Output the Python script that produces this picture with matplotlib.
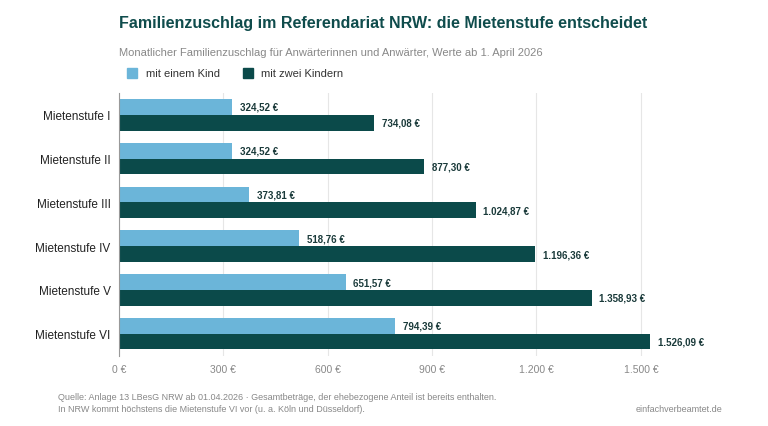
import matplotlib.pyplot as plt
import numpy as np

plt.rcParams['font.family'] = ['Liberation Sans', 'DejaVu Sans']

stufen = ["Mietenstufe I", "Mietenstufe II", "Mietenstufe III",
          "Mietenstufe IV", "Mietenstufe V", "Mietenstufe VI"]
ein_kind = [324.52, 324.52, 373.81, 518.76, 651.57, 794.39]
zwei_kinder = [734.08, 877.30, 1024.87, 1196.36, 1358.93, 1526.09]
xticks = [0, 300, 600, 900, 1200, 1500]

light = "#6bb5d9"
dark = "#0b4a4a"

def euro(v):
    s = f"{v:,.2f}".replace(",", "X").replace(".", ",").replace("X", ".")
    return s + " €"

fig = plt.figure(figsize=(7.68, 4.27), dpi=100)
ax = fig.add_axes([0.155, 0.165, 0.77, 0.615])

y = np.arange(len(stufen))
h = 0.36
ax.barh(y - h / 2, ein_kind, height=h, color=light)
ax.barh(y + h / 2, zwei_kinder, height=h, color=dark)
for yi, a, b in zip(y, ein_kind, zwei_kinder):
    ax.text(a + 22, yi - h / 2, euro(a), va="center", fontsize=7, fontweight="bold", color="#1a3a3a")
    ax.text(b + 22, yi + h / 2, euro(b), va="center", fontsize=7, fontweight="bold", color="#1a3a3a")

ax.set_ylim(len(stufen) - 0.5, -0.5)
ax.set_yticks(y)
ax.set_yticklabels(stufen, fontsize=8.5, color="#222222")
ax.set_xlim(0, 1700)
ax.set_xticks(xticks)
ax.set_xticklabels([euro(v).replace(",00", "") for v in xticks], fontsize=7.5, color="#888888")
ax.grid(axis="x", color="#e6e6e6", linewidth=0.8)
ax.set_axisbelow(True)
for s in ["top", "right", "bottom"]:
    ax.spines[s].set_visible(False)
ax.spines["left"].set_color("#999999")
ax.tick_params(length=0, pad=6)

fig.text(0.155, 0.945, "Familienzuschlag im Referendariat NRW: die Mietenstufe entscheidet",
         fontsize=11.5, fontweight="bold", color="#0f4c4c", va="center")
fig.text(0.155, 0.875, "Monatlicher Familienzuschlag für Anwärterinnen und Anwärter, Werte ab 1. April 2026",
         fontsize=8, color="#888888", va="center")
fig.patches.append(plt.Rectangle((0.166, 0.815), 0.013, 0.024, color=light, transform=fig.transFigure))
fig.text(0.19, 0.827, "mit einem Kind", fontsize=8, color="#333333", va="center")
fig.patches.append(plt.Rectangle((0.316, 0.815), 0.013, 0.024, color=dark, transform=fig.transFigure))
fig.text(0.34, 0.827, "mit zwei Kindern", fontsize=8, color="#333333", va="center")

fig.text(0.075, 0.068, "Quelle: Anlage 13 LBesG NRW ab 01.04.2026 · Gesamtbeträge, der ehebezogene Anteil ist bereits enthalten.",
         fontsize=6.5, color="#888888", va="center")
fig.text(0.075, 0.04, "In NRW kommt höchstens die Mietenstufe VI vor (u. a. Köln und Düsseldorf).",
         fontsize=6.5, color="#888888", va="center")
fig.text(0.94, 0.04, "einfachverbeamtet.de", fontsize=6.5, color="#888888", va="center", ha="right")

fig.savefig("out.png", dpi=100)
